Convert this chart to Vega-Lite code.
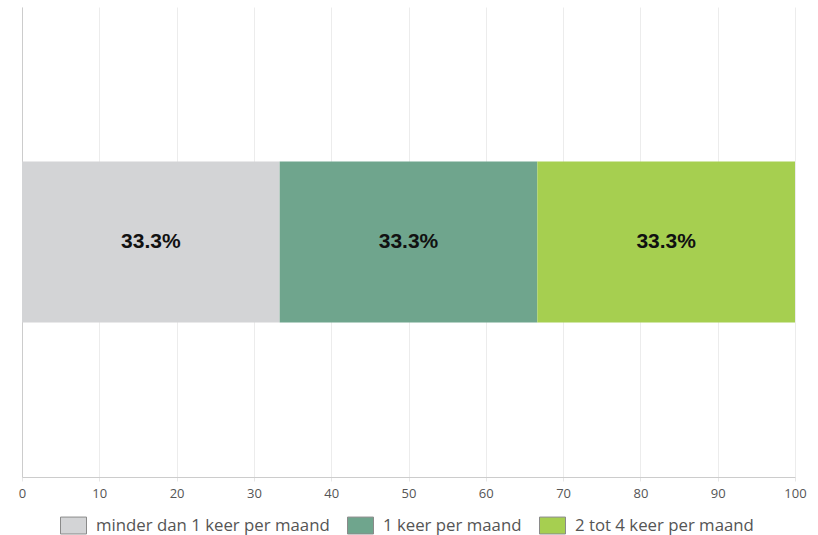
{
  "$schema": "https://vega.github.io/schema/vega-lite/v6.json",
  "width": 773,
  "height": 470,
  "autosize": {"type": "none"},
  "padding": {"left": 22, "top": 7, "right": 23, "bottom": 58},
  "background": "white",
  "config": {
    "view": {"stroke": null},
    "font": "Open Sans"
  },
  "data": {
    "values": [
      {"row": "a", "categorie": "minder dan 1 keer per maand", "order": 1, "pct": 33.333, "label": "33.3%"},
      {"row": "a", "categorie": "1 keer per maand", "order": 2, "pct": 33.333, "label": "33.3%"},
      {"row": "a", "categorie": "2 tot 4 keer per maand", "order": 3, "pct": 33.334, "label": "33.3%"}
    ]
  },
  "encoding": {
    "y": {
      "field": "row",
      "type": "nominal",
      "scale": {"paddingInner": 0, "paddingOuter": 0.96},
      "axis": {"labels": false, "ticks": false, "title": null, "domainColor": "#cccccc", "grid": false}
    }
  },
  "layer": [
    {
      "mark": {"type": "bar"},
      "encoding": {
        "x": {
          "field": "pct",
          "type": "quantitative",
          "stack": "zero",
          "scale": {"domain": [0, 100], "nice": false},
          "axis": {
            "values": [0, 10, 20, 30, 40, 50, 60, 70, 80, 90, 100],
            "title": null,
            "grid": true,
            "gridColor": "#ececec",
            "domainColor": "#cccccc",
            "tickColor": "#e6e6e6",
            "tickSize": 4,
            "labelFlush": false,
            "labelFont": "Open Sans",
            "labelFontSize": 13,
            "labelColor": "#555555",
            "labelPadding": 6
          }
        },
        "color": {
          "field": "categorie",
          "type": "nominal",
          "sort": ["minder dan 1 keer per maand", "1 keer per maand", "2 tot 4 keer per maand"],
          "scale": {
            "domain": ["minder dan 1 keer per maand", "1 keer per maand", "2 tot 4 keer per maand"],
            "range": ["#d3d4d6", "#6fa58d", "#a6cf50"]
          },
          "legend": {
            "orient": "none",
            "legendX": 38,
            "legendY": 505,
            "direction": "horizontal",
            "title": null,
            "symbolType": "M-1,-0.65L1,-0.65L1,0.65L-1,0.65Z",
            "symbolSize": 676,
            "symbolStrokeColor": "#8a8a8a",
            "symbolStrokeWidth": 1,
            "symbolOpacity": 1,
            "labelFont": "Open Sans",
            "labelFontSize": 16.8,
            "labelColor": "#555555",
            "labelLimit": 400,
            "labelOffset": 9,
            "columnPadding": 15
          }
        },
        "order": {"field": "order", "type": "quantitative"}
      }
    },
    {
      "mark": {"type": "text", "font": "Liberation Sans", "fontWeight": "bold", "fontSize": 21, "color": "#111111"},
      "encoding": {
        "x": {"field": "pct", "type": "quantitative", "stack": "zero", "bandPosition": 0.5},
        "detail": {"field": "categorie"},
        "order": {"field": "order", "type": "quantitative"},
        "text": {"field": "label"}
      }
    }
  ]
}
